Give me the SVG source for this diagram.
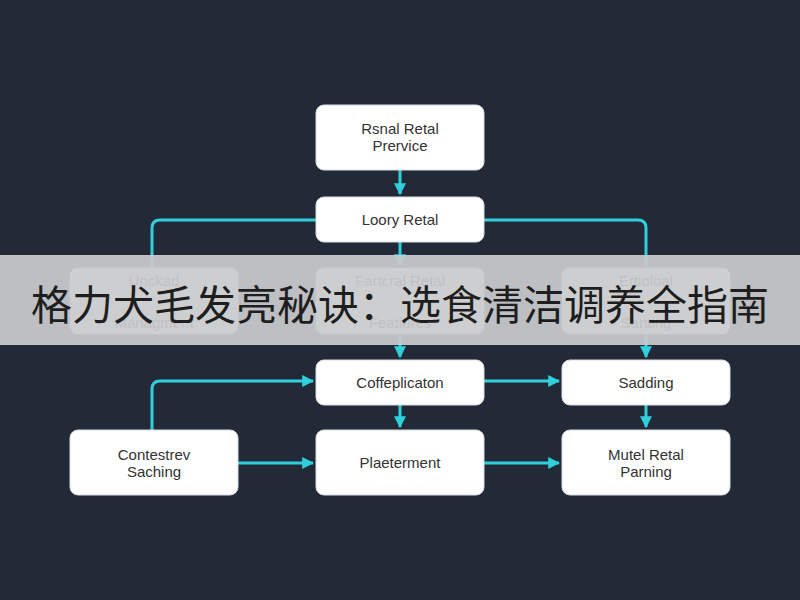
<svg xmlns="http://www.w3.org/2000/svg" width="800" height="600" viewBox="0 0 800 600">
<defs>
<marker id="ah" viewBox="0 0 10 10" refX="9" refY="5" markerWidth="4" markerHeight="4" orient="auto"><path d="M0,0 L10,5 L0,10 z" fill="#2fd0dc"/></marker>
<style>
.n{fill:#fff;stroke:#d8dde3;stroke-width:1}
.t{font-family:"Liberation Sans",Arial,sans-serif;font-size:15px;fill:#333;text-anchor:middle}
.c{fill:none;stroke:#2fd0dc;stroke-width:3;marker-end:url(#ah)}
.c2{fill:none;stroke:#2fd0dc;stroke-width:3}
</style>
</defs>
<rect width="800" height="600" fill="#222a38"/>
<g id="connectors">
<path class="c" d="M400,170 V194"/>
<path class="c2" d="M316,220 H160 Q152,220 152,228 V268"/>
<path class="c2" d="M484,220 H638 Q646,220 646,228 V268"/>
<path class="c" d="M400,242 V265"/>
<path class="c" d="M400,334 V357"/>
<path class="c" d="M646,334 V357"/>
<path class="c" d="M152,430 V389 Q152,381 160,381 H313"/>
<path class="c" d="M484,381 H559"/>
<path class="c" d="M400,405 V427"/>
<path class="c" d="M646,405 V427"/>
<path class="c" d="M238,463 H313"/>
<path class="c" d="M484,463 H559"/>
</g>
<g id="n1"><rect class="n" x="316" y="105" width="168" height="65" rx="8"/><text class="t" x="400" y="134">Rsnal Retal</text><text class="t" x="400" y="151">Prervice</text></g>
<g id="n2"><rect class="n" x="316" y="197" width="168" height="45" rx="8"/><text class="t" x="400" y="225">Loory Retal</text></g>
<g id="n3"><rect class="n" x="70" y="268" width="168" height="66" rx="8"/><text class="t" x="154" y="286">Unckad</text><text class="t" x="154" y="328">Managment</text></g>
<g id="n4"><rect class="n" x="316" y="268" width="168" height="66" rx="8"/><text class="t" x="400" y="286">Fartcral Retal</text><text class="t" x="400" y="328">Featiures</text></g>
<g id="n5"><rect class="n" x="562" y="268" width="168" height="66" rx="8"/><text class="t" x="646" y="286">Ertioloal</text><text class="t" x="646" y="328">Santing</text></g>
<g id="n6"><rect class="n" x="316" y="360" width="168" height="45" rx="8"/><text class="t" x="400" y="388">Coffeplicaton</text></g>
<g id="n7"><rect class="n" x="562" y="360" width="168" height="45" rx="8"/><text class="t" x="646" y="388">Sadding</text></g>
<g id="n8"><rect class="n" x="70" y="430" width="168" height="65" rx="8"/><text class="t" x="154" y="460">Contestrev</text><text class="t" x="154" y="477">Saching</text></g>
<g id="n9"><rect class="n" x="316" y="430" width="168" height="65" rx="8"/><text class="t" x="400" y="468">Plaeterment</text></g>
<g id="n10"><rect class="n" x="562" y="430" width="168" height="65" rx="8"/><text class="t" x="646" y="460">Mutel Retal</text><text class="t" x="646" y="477">Parning</text></g>
<rect x="0" y="255" width="800" height="90" fill="#c9cacc" fill-opacity="0.93"/>
<text x="400" y="320" font-family="'Noto Sans CJK SC',sans-serif" font-size="41" fill="#1e1e1e" text-anchor="middle">格力犬毛发亮秘诀：选食清洁调养全指南</text>
</svg>
